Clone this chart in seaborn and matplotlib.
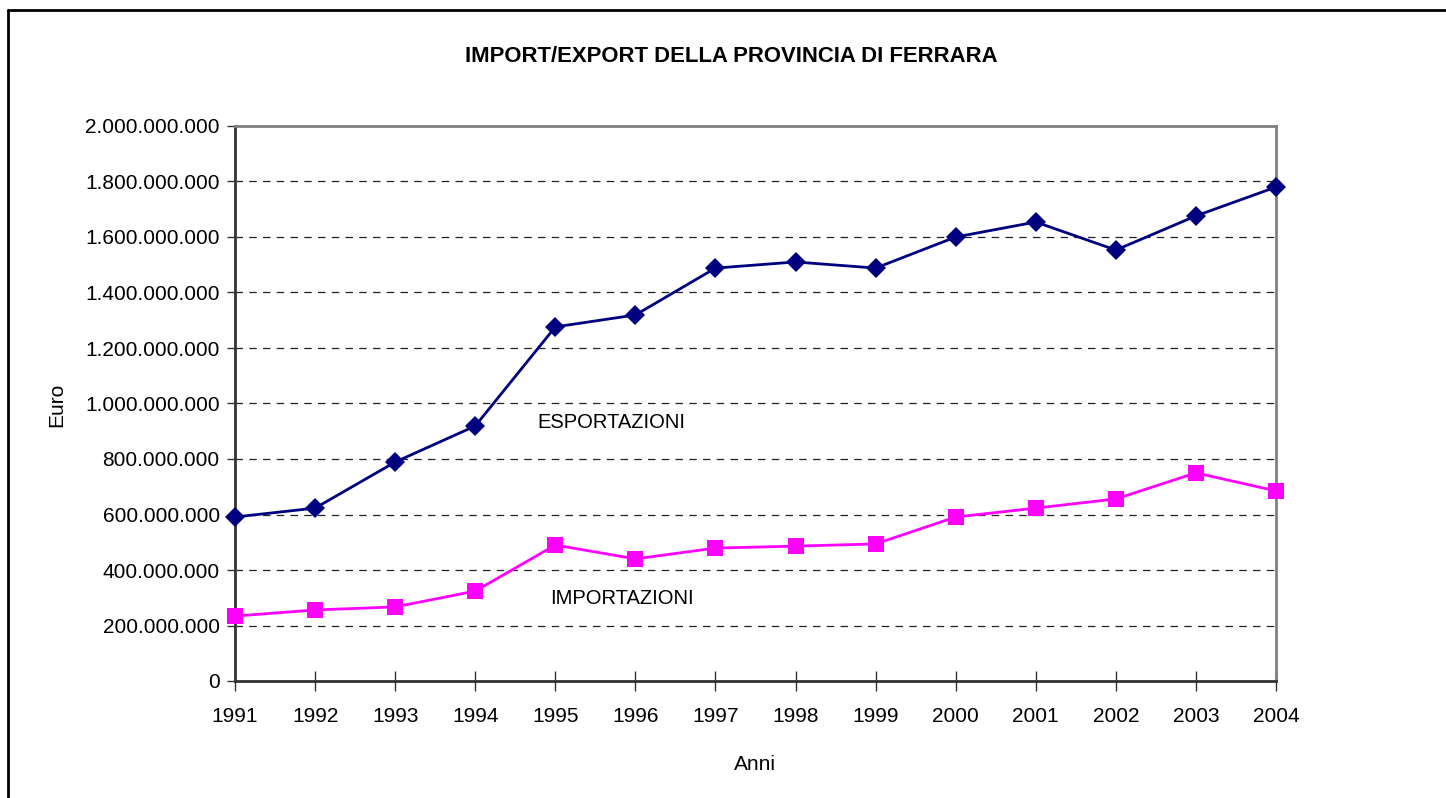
import matplotlib
matplotlib.use("Agg")
import matplotlib.pyplot as plt
import matplotlib.ticker as mticker
from matplotlib.lines import Line2D
import seaborn as sns
import pandas as pd

anni = [1991, 1992, 1993, 1994, 1995, 1996, 1997, 1998, 1999, 2000, 2001, 2002, 2003, 2004]
esportazioni = [591e6, 623e6, 789e6, 919e6, 1276e6, 1319e6, 1488e6, 1510e6, 1488e6,
                1600e6, 1654e6, 1553e6, 1676e6, 1780e6]
importazioni = [234e6, 256e6, 267e6, 324e6, 490e6, 440e6, 479e6, 486e6, 494e6,
                591e6, 623e6, 656e6, 750e6, 685e6]
y_ticks = [0, 200e6, 400e6, 600e6, 800e6, 1000e6, 1200e6, 1400e6, 1600e6, 1800e6, 2000e6]

sns.set_theme(style="white")
plt.rcParams['font.family'] = ['Liberation Sans', 'DejaVu Sans']
plt.rcParams['text.color'] = 'black'

df_exp = pd.DataFrame({"Anni": anni, "Euro": esportazioni})
df_imp = pd.DataFrame({"Anni": anni, "Euro": importazioni})

fig = plt.figure(figsize=(14.46, 7.98), dpi=100)
W, H = 1446, 798
ax = fig.add_axes([235 / W, 1 - 681 / H, (1276 - 235) / W, (681 - 126) / H])

sns.lineplot(data=df_exp, x="Anni", y="Euro", ax=ax, color="#000080", marker="D",
             markersize=10, markeredgewidth=0, linewidth=2, clip_on=False, zorder=5)
sns.lineplot(data=df_imp, x="Anni", y="Euro", ax=ax, color="#FF00FF", marker="s",
             markersize=12, markeredgewidth=0, linewidth=2, clip_on=False, zorder=5)

ax.set_xlim(anni[0], anni[-1])
ax.set_ylim(0, 2000e6)
ax.set_xticks(anni)
ax.set_xticklabels([str(a) for a in anni])
ax.set_yticks(y_ticks)
ax.yaxis.set_major_formatter(mticker.FuncFormatter(lambda v, p: f"{int(round(v)):,}".replace(",", ".")))

for yv in y_ticks[1:-1]:
    ax.axhline(yv, color="#222222", linestyle=(0, (6, 5)), linewidth=0.9, zorder=1)

for s in ["top", "right"]:
    ax.spines[s].set_color("#808080")
    ax.spines[s].set_linewidth(2)
for s in ["left", "bottom"]:
    ax.spines[s].set_color("#333333")
    ax.spines[s].set_linewidth(2)

ax.tick_params(axis="y", direction="out", length=6, width=1, color="#333333",
               labelsize=15, pad=5, labelcolor="black", left=True)
ax.tick_params(axis="x", direction="inout", length=14, width=1, color="#333333",
               labelsize=15, pad=12, labelcolor="black", bottom=True)

ax.set_xlabel("")
ax.set_ylabel("")
fig.text(57 / W, 1 - 405 / H, "Euro", rotation=90, ha="center", va="center", fontsize=15)
fig.text(755 / W, 1 - 764 / H, "Anni", ha="center", va="center", fontsize=15)
fig.text(731 / W, 1 - 56 / H, "IMPORT/EXPORT DELLA PROVINCIA DI FERRARA", ha="center",
         va="center", fontsize=15.9, fontweight="bold")

ax.text(1995.70, 930e6, "ESPORTAZIONI", ha="center", va="center", fontsize=14.5)
ax.text(1995.83, 299e6, "IMPORTAZIONI", ha="center", va="center", fontsize=14.5)

fig.add_artist(Line2D([8 / W, 8 / W], [0, 1 - 10 / H], color="black", linewidth=2,
                      transform=fig.transFigure))
fig.add_artist(Line2D([8 / W, 1], [1 - 10 / H, 1 - 10 / H], color="black", linewidth=2,
                      transform=fig.transFigure))

fig.savefig("out.png", dpi=100, facecolor="white")
